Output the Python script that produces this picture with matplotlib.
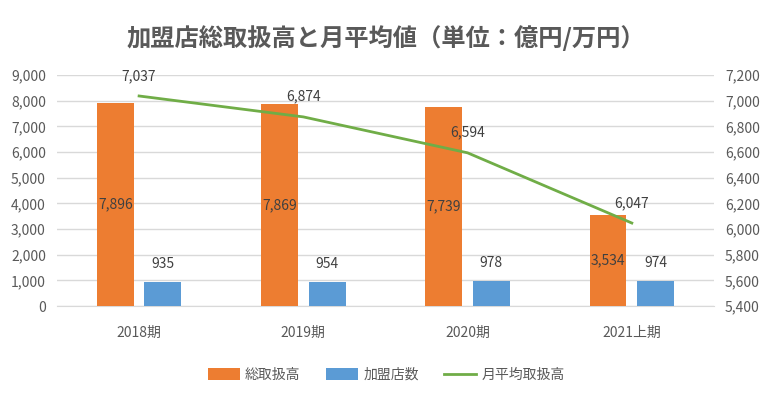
import matplotlib
matplotlib.use("Agg")
import matplotlib.pyplot as plt
import numpy as np

plt.rcParams['font.family'] = ['Noto Sans CJK JP', 'DejaVu Sans']

categories = ["2018期", "2019期", "2020期", "2021上期"]
total = [7896, 7869, 7739, 3534]
stores = [935, 954, 978, 974]
monthly = [7037, 6874, 6594, 6047]

orange = "#ED7D31"
blue = "#5B9BD5"
green = "#70AD47"
txt = "#595959"
lbl = "#404040"

fig = plt.figure(figsize=(7.72, 3.98), dpi=100)
ax = fig.add_axes([0.0738, 0.231, 0.851, 0.5804])
ax2 = ax.twinx()

x = np.arange(len(categories))
w = 0.225
off = 0.145
b1 = ax.bar(x - off, total, w, color=orange, label="総取扱高", zorder=3)
b2 = ax.bar(x + off, stores, w, color=blue, label="加盟店数", zorder=3)
ln, = ax2.plot(x, monthly, color=green, lw=2, label="月平均取扱高", zorder=4)

ax.set_xlim(-0.5, 3.5)
ax.set_ylim(0, 9000)
ax.set_yticks(np.arange(0, 9001, 1000))
ax.set_yticklabels([f"{v:,}" for v in range(0, 9001, 1000)])
ax2.set_ylim(5400, 7200)
ax2.set_yticks(np.arange(5400, 7201, 200))
ax2.set_yticklabels([f"{v:,}" for v in range(5400, 7201, 200)])
ax.set_xticks(x)
ax.set_xticklabels(categories)

ax.grid(axis='y', color="#D9D9D9", lw=1, zorder=0)
for a in (ax, ax2):
    for s in a.spines.values():
        s.set_visible(False)
    a.tick_params(length=0, colors=txt, labelsize=10)
ax.spines['bottom'].set_visible(True)
ax.spines['bottom'].set_color("#D9D9D9")
ax.tick_params(axis='x', pad=14)
ax.tick_params(axis='y', pad=8)
ax2.tick_params(axis='y', pad=8)

for xi, v in zip(x, total):
    ax.text(xi - off, v / 2, f"{v:,}", ha='center', va='center', fontsize=10, color=lbl, zorder=5)
for xi, v in zip(x, stores):
    ax.annotate(f"{v:,}", (xi + off, v), xytext=(0, 13), textcoords='offset points',
                ha='center', va='center', fontsize=10, color=lbl, zorder=5)
for xi, v in zip(x, monthly):
    ax2.annotate(f"{v:,}", (xi, v), xytext=(0, 14.5), textcoords='offset points',
                 ha='center', va='center', fontsize=10, color=lbl, zorder=5)

fig.text(0.5, 0.905, "加盟店総取扱高と月平均値（単位：億円/万円）", ha='center', va='center',
         fontsize=17.5, fontweight='bold', color=txt)

fig.legend(handles=[b1, b2, ln], loc='center', bbox_to_anchor=(0.5, 0.058), ncol=3,
           frameon=False, fontsize=10, labelcolor=txt, handlelength=2.3, handleheight=0.9,
           columnspacing=1.8, handletextpad=0.4)

fig.savefig("out.png", dpi=100)
